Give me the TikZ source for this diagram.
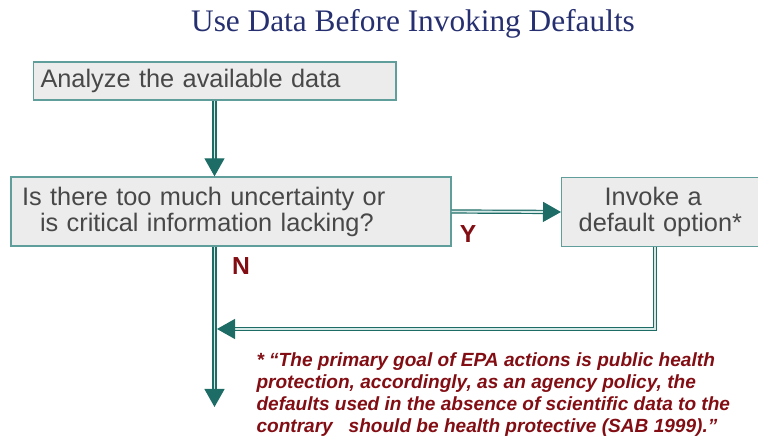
\documentclass[tikz,border=0pt]{standalone}
\usepackage{fontspec}
\setmainfont{Liberation Sans}
\newfontfamily\titlefont{Liberation Serif}
\usetikzlibrary{arrows.meta}

\definecolor{titleblue}{RGB}{38,48,112}
\definecolor{boxfill}{RGB}{236,236,236}
\definecolor{boxline}{RGB}{95,158,154}
\definecolor{boxtext}{RGB}{72,72,72}
\definecolor{flowteal}{RGB}{30,108,102}
\definecolor{flowinner}{RGB}{214,232,230}
\definecolor{notered}{RGB}{130,14,20}

\tikzset{every picture/.style={line width=0.75pt}}
\tikzset{
  flowbox/.style={draw=boxline, fill=boxfill, line width=1pt, text=boxtext, font=\fontsize{19}{19.5}\selectfont, inner ysep=0pt, align=left},
  flowline/.style={draw=flowteal, double=flowinner, double distance=1.4pt, line width=0.9pt},
  flowarrow/.style={flowline, -{Triangle[length=13.5pt,width=15pt]}},
  yesno/.style={text=notered, font=\fontsize{18.5}{18.5}\selectfont\bfseries, inner sep=0pt}
}

\begin{document}
\begin{tikzpicture}[x=0.75pt,y=0.75pt,yscale=-1,xscale=1]
    \useasboundingbox (0,0) rectangle (758,438);

    % Title
    \node [anchor=base, text=titleblue, font=\titlefont\fontsize{23.5}{23.5}\selectfont, inner sep=0pt] (title) at (413,32) {Use Data Before Invoking Defaults};

    % Boxes
    \node [flowbox, minimum height=28.5pt, text width=261pt, inner xsep=5.5pt] (analyze) at (214.5,81) {Analyze the available data};
    \node [flowbox, minimum height=51.75pt, text width=313.5pt, inner xsep=8.25pt] (question) at (231,211.5) {Is there too much uncertainty or\\\hspace*{13.5pt}is critical information lacking?};
    \node [flowbox, minimum height=51.75pt, text width=214.5pt, inner xsep=12.75pt, anchor=west] (option) at (561,212) {\hspace*{19.5pt}Invoke a\\default option*};

    % Free ends
    \coordinate (exit) at (214.5,407);
    \coordinate (turn) at (655,329);
    \coordinate (merge) at (217,329);

    % Connectors
    \draw [flowarrow] (analyze.south) -- (analyze.south |- question.north);
    \draw [flowarrow] (question.east) -- (option.west);
    \draw [flowarrow] (analyze.south |- question.south) -- (exit);
    \draw [flowarrow] (option.south -| turn) -- (turn) -- (merge);

    % Text Node
    \node [yesno] (yes) at (468,234) {Y};
    % Text Node
    \node [yesno] (no) at (241,266) {N};
    % Text Node
    \node [anchor=north west, text=notered, font=\fontsize{14.3}{16.5}\selectfont\bfseries\itshape, align=left, inner sep=0pt] (note) at (256,352) {* “The primary goal of EPA actions is public health\\protection, accordingly, as an agency policy, the\\defaults used in the absence of scientific data to the\\contrary\ \ \ should be health protective (SAB 1999).”};

\end{tikzpicture}
\end{document}
